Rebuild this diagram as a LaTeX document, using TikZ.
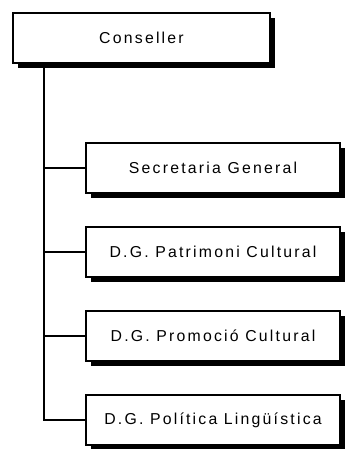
\documentclass[tikz,border=0pt]{standalone}
\usepackage{fontspec}
\setmainfont{Liberation Sans}[LetterSpace=14]
\usetikzlibrary{trees}
\usetikzlibrary{shadows}
\usetikzlibrary{calc}
\tikzset{
    orgnode/.style={align=center, inner sep=2pt, outer sep=0pt, text centered, draw, line width=1.1pt, fill=white, font=\fontsize{13.5}{16}\selectfont, drop shadow={shadow xshift=0.15cm, shadow yshift=-0.15cm, fill=black, opacity=1}},
    boss/.style={orgnode, minimum width=7.71cm, minimum height=1.5cm},
    unit/.style={orgnode, minimum width=7.62cm, minimum height=1.5cm}
}
\begin{document}
\begin{tikzpicture}[
  level 1/.style={grow via three points={one child at (2.145,-3.9) and two children at (2.145,-3.9) and (2.145,-6.42)}},
  every child node/.style={unit},
  edge from parent/.style={draw, line width=1.1pt},
  edge from parent path={($(\tikzparentnode.south west)+(0.93,0)$) |- (\tikzchildnode.west)}]

\useasboundingbox (0,0) rectangle (10.41,-13.47);

\node[boss] (conseller) at (4.245,-1.14) {Conseller}
    child {node (secgen) {Secretaria General}}
    child {node (patrimoni) {D.G. Patrimoni Cultural}}
    child {node (promocio) {D.G. Promoció Cultural}}
    child {node (linguistica) {D.G. Política Lingüística}};

\end{tikzpicture}
\end{document}
